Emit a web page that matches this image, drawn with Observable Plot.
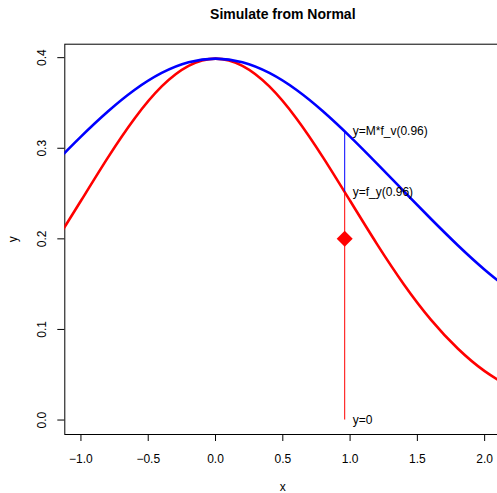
<!DOCTYPE html>
<html>
<head>
<meta charset="utf-8">
<script src="https://cdn.jsdelivr.net/npm/d3@7"></script>
<script src="https://cdn.jsdelivr.net/npm/@observablehq/plot@0.6"></script>
<style>
  html, body { margin: 0; padding: 0; background: #fff; overflow: hidden; }
  svg { display: block; }
</style>
</head>
<body>
<div id="chart"></div>
<script>
// --- data ---
const title = "Simulate from Normal";
const xLabel = "x";
const yLabel = "y";
const xs = [-1.2, -1.0, -0.8, -0.6, -0.4, -0.2, 0.0, 0.2, 0.4, 0.6, 0.8, 1.0, 1.2, 1.4, 1.6, 1.8, 2.0, 2.2];
const redY = [0.1942, 0.2420, 0.2897, 0.3332, 0.3683, 0.3910, 0.3989, 0.3910, 0.3683, 0.3332, 0.2897, 0.2420, 0.1942, 0.1497, 0.1109, 0.0790, 0.0540, 0.0355];
const blueY = [0.2830, 0.3128, 0.3405, 0.3645, 0.3831, 0.3949, 0.3989, 0.3949, 0.3831, 0.3645, 0.3405, 0.3128, 0.2830, 0.2525, 0.2222, 0.1930, 0.1660, 0.1420];
const x0 = 0.96;
const fy = 0.2516;     // f_y(0.96)
const mfv = 0.3186;    // M*f_v(0.96)
const u = 0.2;         // simulated point height
const labels = ["y=M*f_v(0.96)", "y=f_y(0.96)", "y=0"];
const labelY = [mfv, fy, 0];
const xTicks = [-1.0, -0.5, 0.0, 0.5, 1.0, 1.5, 2.0];
const yTicks = [0.0, 0.1, 0.2, 0.3, 0.4];

// --- build tables ---
const red = xs.map((x, i) => ({x, y: redY[i]}));
const blue = xs.map((x, i) => ({x, y: blueY[i]}));
const texts = labels.map((t, i) => ({x: x0, y: labelY[i], t}));
const fmt = d3.format(".1f");

const chart = Plot.plot({
  width: 497,
  height: 493,
  marginLeft: 64.3,
  marginRight: -3.3,
  marginTop: 43.7,
  marginBottom: 59,
  style: {fontFamily: "'Liberation Sans', Arial, Helvetica, sans-serif", fontSize: "12px", background: "#fff", overflow: "visible"},
  x: {domain: [-1.12, 2.12]},
  y: {domain: [-0.015956, 0.414856]},
  marks: [
    Plot.frame({stroke: "#000", strokeWidth: 1}),
    Plot.line(red, {x: "x", y: "y", stroke: "#ff0000", strokeWidth: 2.6, curve: "natural", clip: true}),
    Plot.line(blue, {x: "x", y: "y", stroke: "#0000ff", strokeWidth: 2.6, curve: "natural", clip: true}),
    Plot.ruleX([x0], {y1: 0, y2: fy, stroke: "#ff0000", strokeWidth: 1}),
    Plot.ruleX([x0], {y1: fy, y2: mfv, stroke: "#0000ff", strokeWidth: 1}),
    Plot.dot([{x: x0, y: u}], {x: "x", y: "y", symbol: "diamond2", r: 7.2, fill: "#ff0000", stroke: "none"}),
    Plot.text(texts, {x: "x", y: "y", text: "t", textAnchor: "start", dx: 8, fontSize: 12, fill: "#000"}),
    // axes
    Plot.axisX(xTicks, {tickSize: 7, tickPadding: 13, tickFormat: fmt, fontSize: 12, label: null, stroke: "#000", fill: "#000"}),
    Plot.axisY(yTicks, {tickSize: 7, tickFormat: () => "", label: null, stroke: "#000"}),
    Plot.text(yTicks, {y: d => d, text: d => fmt(d), frameAnchor: "left", dx: -22.6, rotate: -90, textAnchor: "middle", lineAnchor: "middle", fontSize: 12, fill: "#000"}),
    Plot.text([xLabel], {text: d => d, frameAnchor: "bottom", dy: 52.5, lineAnchor: "middle", textAnchor: "middle", fontSize: 12, fill: "#000"}),
    Plot.text([yLabel], {text: d => d, frameAnchor: "left", dx: -52, rotate: -90, textAnchor: "middle", lineAnchor: "middle", fontSize: 12, fill: "#000"}),
    Plot.text([title], {text: d => d, frameAnchor: "top", dy: -29.5, lineAnchor: "middle", textAnchor: "middle", fontSize: 14, fontWeight: "bold", fill: "#000"})
  ]
});
document.getElementById("chart").appendChild(chart);
</script>
</body>
</html>
